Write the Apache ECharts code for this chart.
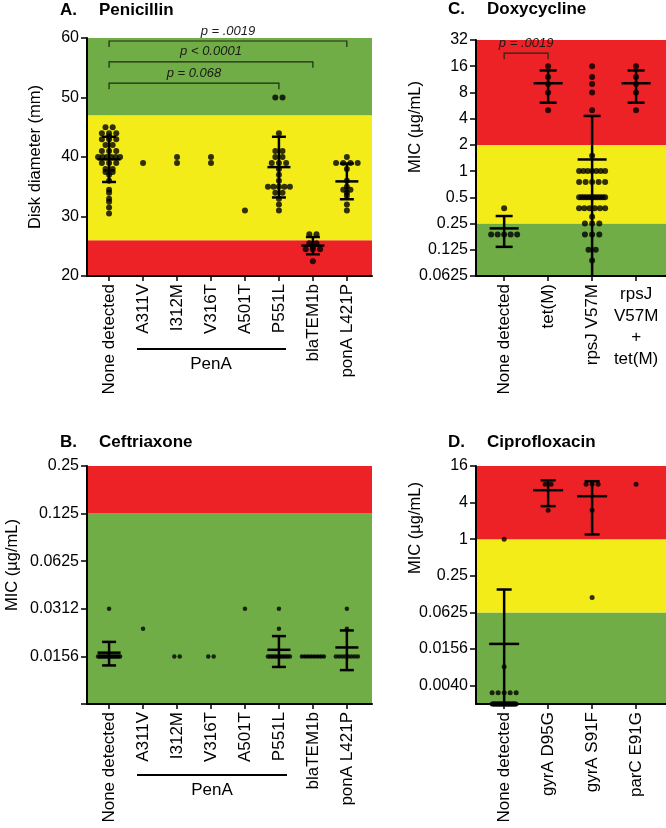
<!DOCTYPE html>
<html><head><meta charset="utf-8">
<script src="https://cdn.jsdelivr.net/npm/echarts@6/dist/echarts.min.js"></script>
<style>html,body{margin:0;padding:0;background:#fff}#c{width:666px;height:828px}</style>
</head><body><div id="c"></div>
<script>
// ================= DATA =================
// A. Penicillin (disk diameter, mm)
const penCategories = ['None detected','A311V','I312M','V316T','A501T','P551L','blaTEM1b','ponA L421P'];
const penTicks = [20,30,40,50,60];
const penBandEdges = [20,26,47,60];           // red | yellow | green
const penValues = [
  [45,45,44,44,44,43.5,43,43,43,42,42,41,41,41,40,40,40,40,40,40,39,39,39,38,38,37.5,37.5,37,36,34.5,34,33,32.5,31.5,30.5],
  [39],
  [39,40],
  [39,40],
  [31],
  [50,50,44,41,41,40,40,39,39,39,38,37,36,35,35,35,35,35,34,34,33,32,31],
  [27,27,25.5,25.5,25,24.5,24.5,24.5,22.5],
  [40,39,39,39,39,38,36,35,34.5,34.5,34,33.5,32,31]
];
const penMeans = [39.6,null,null,null,null,38.3,25.1,35.9];
const penSDs   = [3.8,null,null,null,null,5.1,1.45,3.0];
const penBrackets = [[0,5,52.4],[0,6,56.0],[0,7,59.5]];
const penBracketLabels = ['p = 0.068','p < 0.0001','p = .0019'];

// B. Ceftriaxone (MIC, ug/mL)
const cefCategories = ['None detected','A311V','I312M','V316T','A501T','P551L','blaTEM1b','ponA L421P'];
const cefTicks = [0.0078125,0.015625,0.03125,0.0625,0.125,0.25];
const cefTickLabels = ['','0.0156','0.0312','0.0625','0.125','0.25'];
const cefBandEdges = [0.0078125,0.125,0.25];   // green | red
const cefValues = [
  [0.03125,0.015625,0.015625,0.015625,0.015625,0.015625,0.015625,0.015625,0.015625,0.015625,0.015625,0.015625,0.015625,0.015625,0.015625,0.015625,0.015625],
  [0.0234],
  [0.015625,0.015625],
  [0.015625,0.015625],
  [0.03125],
  [0.03125,0.0234,0.015625,0.015625,0.015625,0.015625,0.015625,0.015625,0.015625,0.015625,0.015625,0.015625,0.015625,0.015625],
  [0.015625,0.015625,0.015625,0.015625,0.015625,0.015625,0.015625,0.015625],
  [0.03125,0.0234,0.015625,0.015625,0.015625,0.015625,0.015625,0.015625,0.015625,0.015625]
];
const cefMeans = [0.0165,null,null,null,null,0.0172,0.015625,0.0178];
const cefSDs   = [0.0028,null,null,null,null,0.0038,0,0.005];

// C. Doxycycline (MIC, ug/mL)
const doxCategories = ['None detected','tet(M)','rpsJ V57M','rpsJ\nV57M\n+\ntet(M)'];
const doxTicks = [0.0625,0.125,0.25,0.5,1,2,4,8,16,32];
const doxTickLabels = ['0.0625','0.125','0.25','0.5','1','2','4','8','16','32'];
const doxBandEdges = [0.0625,0.25,2,32];       // green | yellow | red
const doxValues = [
  [0.375,0.1875,0.1875,0.1875,0.1875,0.1875],
  [16,12,10,8,5],
  [16,12,10,8,5,1.5,1,1,1,1,1,1,1,0.75,0.75,0.75,0.75,0.75,0.5,0.5,0.5,0.5,0.5,0.5,0.5,0.5,0.5,0.5,0.5,0.5,0.375,0.375,0.375,0.375,0.375,0.375,0.3,0.25,0.25,0.25,0.1875,0.1875,0.1875,0.125,0.125,0.094],
  [16,12,10,8,5]
];
const doxMeans = [0.22,10.2,1.36,10.2];
const doxSDs   = [0.085,4.1,2.94,4.1];
const doxBrackets = [[0,1,22.6]];
const doxBracketLabels = ['p = .0019'];

// D. Ciprofloxacin (MIC, ug/mL)
const cipCategories = ['None detected','gyrA D95G','gyrA S91F','parC E91G'];
const cipTicks = [0.00390625,0.015625,0.0625,0.25,1,4,16];
const cipTickLabels = ['0.0040','0.0156','0.0625','0.25','1','4','16'];
const cipBandEdges = [0.001953125,0.0625,1,16]; // green | yellow | red
const cipValues = [
  [1,0.008,0.003,0.003,0.003,0.003,0.003,
   0.00195,0.00195,0.00195,0.00195,0.00195,0.00195,0.00195,0.00195,0.00195,0.00195,
   0.00195,0.00195,0.00195,0.00195,0.00195,0.00195,0.00195,0.00195,0.00195,0.00195,
   0.00195,0.00195,0.00195,0.00195,0.00195,0.00195,0.00195,0.00195,0.00195,0.00195],
  [8,8,3],
  [8,8,8,3,0.11],
  [8]
];
const cipMeans = [0.019,6.4,5.1,null];
const cipSDs   = [0.13,2.9,3.9,null];

// ================= STYLE =================
const FONT = '"Liberation Sans", Arial, Helvetica, sans-serif';
const GREEN = '#70AD47', YELLOW = '#F3EC19', RED = '#EC2227';
const penBandColors = [RED, YELLOW, GREEN];
const cefBandColors = [GREEN, RED];
const doxBandColors = [GREEN, YELLOW, RED];
const cipBandColors = [GREEN, YELLOW, RED];

const G = [
  {left:87,  top:38,  width:285, height:238, xmin:-0.65, xmax:7.74},
  {left:87,  top:466, width:285, height:238, xmin:-0.65, xmax:7.74},
  {left:476, top:40,  width:190, height:236, xmin:-0.64, xmax:3.68},
  {left:476, top:466, width:190, height:238, xmin:-0.64, xmax:3.68}
];

function pxPerUnit(g){ return g.width/(g.xmax-g.xmin); }

function buildDots(valuesByCat, g, dotPx, maxHalf){
  const ppu = pxPerUnit(g), out = [];
  valuesByCat.forEach((vals, ci) => {
    const groups = new Map();
    vals.forEach(v => { const k = String(v); if (!groups.has(k)) groups.set(k, []); groups.get(k).push(v); });
    groups.forEach(arr => {
      const n = arr.length;
      let s = dotPx*1.2;
      if (n > 1 && (n-1)*s/2 > maxHalf) s = 2*maxHalf/(n-1);
      arr.forEach((v,i) => out.push([ci + (i-(n-1)/2)*s/ppu, v]));
    });
  });
  return out;
}

function xIdx(idx){ return idx===2?2:(idx===3?4:idx); }

function bandSeries(idx, edges, colors){
  const data = [];
  for (let i=0;i<edges.length-1;i++) data.push([edges[i], edges[i+1], i]);
  return {
    type:'custom', xAxisIndex: xIdx(idx), yAxisIndex: idx, z:-1, silent:true,
    data,
    renderItem(params, api){
      const cs = params.coordSys;
      const y0 = api.coord([0, api.value(0)])[1];
      const y1 = api.coord([0, api.value(1)])[1];
      return {type:'rect', shape:{x:cs.x, y:Math.min(y0,y1), width:cs.width, height:Math.abs(y1-y0)},
              style:{fill: colors[api.value(2)]}};
    }
  };
}

function errSeries(idx, means, sds, yMin, halfMean, halfCap, lw){
  const data = [];
  means.forEach((m,i) => { if (m !== null) data.push([i, m, sds[i]]); });
  return {
    type:'custom', xAxisIndex: xIdx(idx), yAxisIndex: idx, z:4, silent:true, clip:false,
    data,
    renderItem(params, api){
      const x = api.value(0), m = api.value(1), sd = api.value(2);
      let lo = m - sd, clamped = false;
      if (lo <= yMin) { lo = yMin; clamped = true; }
      const hi = m + sd;
      const pm = api.coord([x, m]), ph = api.coord([x, hi]), pl = api.coord([x, lo]);
      const st = {stroke:'#000', lineWidth:lw};
      const ch = [];
      if (sd > 0) {
        ch.push({type:'line', shape:{x1:pm[0], y1:pl[1], x2:pm[0], y2:ph[1]}, style:st});
        ch.push({type:'line', shape:{x1:pm[0]-halfCap, y1:ph[1], x2:pm[0]+halfCap, y2:ph[1]}, style:st});
        if (!clamped) ch.push({type:'line', shape:{x1:pm[0]-halfCap, y1:pl[1], x2:pm[0]+halfCap, y2:pl[1]}, style:st});
      }
      ch.push({type:'line', shape:{x1:pm[0]-halfMean, y1:pm[1], x2:pm[0]+halfMean, y2:pm[1]}, style:st});
      return {type:'group', children:ch};
    }
  };
}

function bracketSeries(idx, brackets, labels){
  return {
    type:'custom', xAxisIndex: xIdx(idx), yAxisIndex: idx, z:5, silent:true, clip:false,
    data: brackets,
    renderItem(params, api){
      const p1 = api.coord([api.value(0), api.value(2)]);
      const p2 = api.coord([api.value(1), api.value(2)]);
      const drop = 6;
      return {type:'group', children:[
        {type:'polyline', shape:{points:[[p1[0],p1[1]+drop],[p1[0],p1[1]],[p2[0],p2[1]],[p2[0],p2[1]+drop]]},
         style:{stroke:'#1d2b12', lineWidth:1.2, fill:null}},
        {type:'text', x:(p1[0]+p2[0])/2, y:p1[1]-10,
         style:{text:labels[params.dataIndex], fill:'#1a1a1a', font:'italic 13px '+FONT, align:'center', verticalAlign:'middle'}}
      ]};
    }
  };
}

function dotSeries(idx, data, size){
  return {type:'scatter', xAxisIndex: xIdx(idx), yAxisIndex: idx, z:3, silent:true, clip:false,
          symbol:'circle', symbolSize:size, itemStyle:{color:'#000'}, data};
}

const axisLineStyle = {show:true, onZero:false, lineStyle:{color:'#000', width:2}};

function catXAxis(gridIndex, g, cats, labelIdx, tickIdx, rotate){
  return {
    type:'value', gridIndex, position:'bottom', min:g.xmin, max:g.xmax, z:10,
    axisLine: axisLineStyle, splitLine:{show:false},
    axisTick:{show:tickIdx.length>0, length:5, lineStyle:{color:'#000', width:1.5}, customValues:tickIdx.length?tickIdx:[0]},
    axisLabel:{show:true, customValues:labelIdx, rotate, margin:8, color:'#000', fontSize:17, fontFamily:FONT,
               lineHeight:21.5, align: rotate ? undefined : 'center',
               formatter: v => cats[Math.round(v)]}
  };
}

function findLabel(ticks, labels, v){
  for (let i=0;i<ticks.length;i++) if (Math.abs(Math.log2(ticks[i]) - Math.log2(v)) < 1e-6) return labels[i];
  return '';
}

function logYAxis(gridIndex, base, ticks, labels, min, max){
  return {
    type:'log', logBase:base, gridIndex, min, max, z:10,
    axisLine: axisLineStyle, splitLine:{show:false},
    axisTick:{show:true, length:6, lineStyle:{color:'#000', width:1.5}, customValues:ticks},
    axisLabel:{customValues:ticks, margin:8, color:'#000', fontSize:16, fontFamily:FONT,
               formatter: v => findLabel(ticks, labels, v)}
  };
}

const penDots = buildDots(penValues, G[0], 6, 11);
const cefDots = buildDots(cefValues, G[1], 4.5, 11);
const doxDots = buildDots(doxValues, G[2], 6, 13);
const cipDots = buildDots(cipValues, G[3], 5, 12);

const TITLE_FONT = 'bold 17px ' + FONT;
const NAME_FONT = '16.5px ' + FONT;

const option = {
  animation:false,
  textStyle:{fontFamily:FONT},
  grid: G.map(g => ({left:g.left, top:g.top, width:g.width, height:g.height})),
  xAxis: [
    catXAxis(0, G[0], penCategories, [0,1,2,3,4,5,6,7], [0,1,2,3,4,5,6,7], 90),
    catXAxis(1, G[1], cefCategories, [0,1,2,3,4,5,6,7], [0,1,2,3,4,5,6,7], 90),
    catXAxis(2, G[2], doxCategories, [0,1,2], [0,1,2,3], 90),
    Object.assign(catXAxis(2, G[2], doxCategories, [3], [], 0), {axisLine:{show:false, onZero:false}}),
    catXAxis(3, G[3], cipCategories, [0,1,2,3], [0,1,2,3], 90)
  ],
  yAxis: [
    {type:'value', gridIndex:0, min:penTicks[0], max:penTicks[penTicks.length-1], interval:10, z:10,
     axisLine: axisLineStyle, splitLine:{show:false},
     axisTick:{show:true, length:6, lineStyle:{color:'#000', width:1.5}},
     axisLabel:{margin:8, color:'#000', fontSize:16, fontFamily:FONT}},
    logYAxis(1, 2, cefTicks, cefTickLabels, 0.0078125, 0.25),
    logYAxis(2, 2, doxTicks, doxTickLabels, 0.0625, 32),
    logYAxis(3, 4, cipTicks, cipTickLabels, 0.001953125, 16)
  ],
  series: [
    bandSeries(0, penBandEdges, penBandColors),
    bandSeries(1, cefBandEdges, cefBandColors),
    bandSeries(2, doxBandEdges, doxBandColors),
    bandSeries(3, cipBandEdges, cipBandColors),
    dotSeries(0, penDots, 6),
    dotSeries(1, cefDots, 4.5),
    dotSeries(2, doxDots, 6),
    dotSeries(3, cipDots, 5),
    errSeries(0, penMeans, penSDs, 20, 11.5, 7, 2.5),
    errSeries(1, cefMeans, cefSDs, 0.0078125, 11.5, 7, 2.5),
    errSeries(2, doxMeans, doxSDs, 0.0625, 14.5, 8.5, 2.5),
    errSeries(3, cipMeans, cipSDs, 0.001953125, 15, 7.5, 2.5),
    bracketSeries(0, penBrackets, penBracketLabels),
    bracketSeries(2, doxBrackets, doxBracketLabels)
  ],
  graphic: [
    {type:'text', x:60,  y:10,  style:{text:'A.', font:TITLE_FONT, fill:'#000', verticalAlign:'middle'}},
    {type:'text', x:99,  y:10,  style:{text:'Penicillin', font:TITLE_FONT, fill:'#000', verticalAlign:'middle'}},
    {type:'text', x:60,  y:442, style:{text:'B.', font:TITLE_FONT, fill:'#000', verticalAlign:'middle'}},
    {type:'text', x:99,  y:442, style:{text:'Ceftriaxone', font:TITLE_FONT, fill:'#000', verticalAlign:'middle'}},
    {type:'text', x:448, y:9,   style:{text:'C.', font:TITLE_FONT, fill:'#000', verticalAlign:'middle'}},
    {type:'text', x:487, y:9,   style:{text:'Doxycycline', font:TITLE_FONT, fill:'#000', verticalAlign:'middle'}},
    {type:'text', x:448, y:442, style:{text:'D.', font:TITLE_FONT, fill:'#000', verticalAlign:'middle'}},
    {type:'text', x:487, y:442, style:{text:'Ciprofloxacin', font:TITLE_FONT, fill:'#000', verticalAlign:'middle'}},
    {type:'text', x:35, y:157, rotation:Math.PI/2, style:{text:'Disk diameter (mm)', font:NAME_FONT, fill:'#000', align:'center', verticalAlign:'middle'}},
    {type:'text', x:12, y:565, rotation:Math.PI/2, style:{text:'MIC (µg/mL)', font:NAME_FONT, fill:'#000', align:'center', verticalAlign:'middle'}},
    {type:'text', x:415, y:127, rotation:Math.PI/2, style:{text:'MIC (µg/mL)', font:NAME_FONT, fill:'#000', align:'center', verticalAlign:'middle'}},
    {type:'text', x:415, y:528, rotation:Math.PI/2, style:{text:'MIC (µg/mL)', font:NAME_FONT, fill:'#000', align:'center', verticalAlign:'middle'}},
    {type:'line', shape:{x1:137, y1:349, x2:286, y2:349}, style:{stroke:'#000', lineWidth:2}},
    {type:'text', x:211, y:364, style:{text:'PenA', font:'17px '+FONT, fill:'#000', align:'center', verticalAlign:'middle'}},
    {type:'line', shape:{x1:137, y1:775, x2:287, y2:775}, style:{stroke:'#000', lineWidth:2}},
    {type:'text', x:212, y:790, style:{text:'PenA', font:'17px '+FONT, fill:'#000', align:'center', verticalAlign:'middle'}}
  ]
};

const chart = echarts.init(document.getElementById('c'), null, {renderer:'canvas'});
chart.setOption(option);
</script>
</body></html>
